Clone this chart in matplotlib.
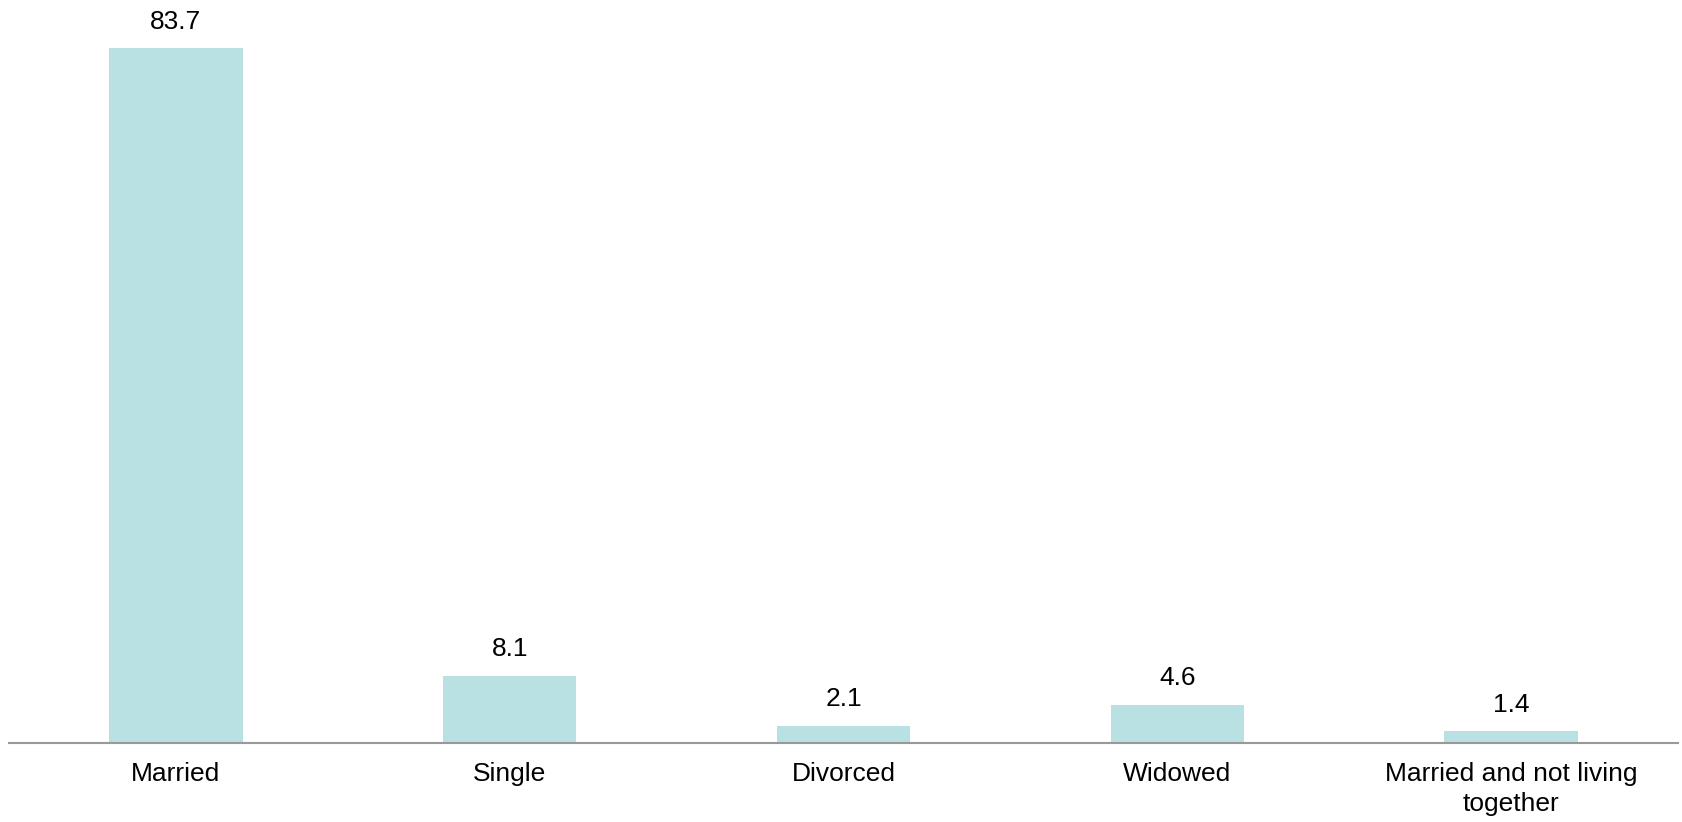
import matplotlib
matplotlib.use("Agg")
import matplotlib.pyplot as plt

plt.rcParams['font.family'] = ['Liberation Sans', 'DejaVu Sans']

categories = ['Married', 'Single', 'Divorced', 'Widowed', 'Married and not living\ntogether']
values = [83.7, 8.1, 2.1, 4.6, 1.4]

fig = plt.figure(figsize=(16.83, 8.22), dpi=100)
ax = fig.add_axes([9 / 1683, 79 / 822, 1669 / 1683, 743 / 822])

x = range(len(categories))
bars = ax.bar(x, values, width=0.4, color='#b9e0e3')

for b, v in zip(bars, values):
    ax.annotate(f'{v:.1f}', (b.get_x() + b.get_width() / 2, v),
                xytext=(0, 14), textcoords='offset points',
                ha='center', va='baseline', fontsize=19, color='black')

ax.set_xlim(-0.5, len(categories) - 0.5)
ax.set_ylim(0, 89.5)
ax.set_xticks(list(x))
ax.set_xticklabels(categories, fontsize=19, linespacing=1.3)
ax.tick_params(axis='x', length=0, pad=14)
ax.set_yticks([])

for side in ['top', 'right', 'left']:
    ax.spines[side].set_visible(False)
ax.spines['bottom'].set_color('#999999')
ax.spines['bottom'].set_linewidth(1.5)

fig.savefig('out.png', dpi=100)
